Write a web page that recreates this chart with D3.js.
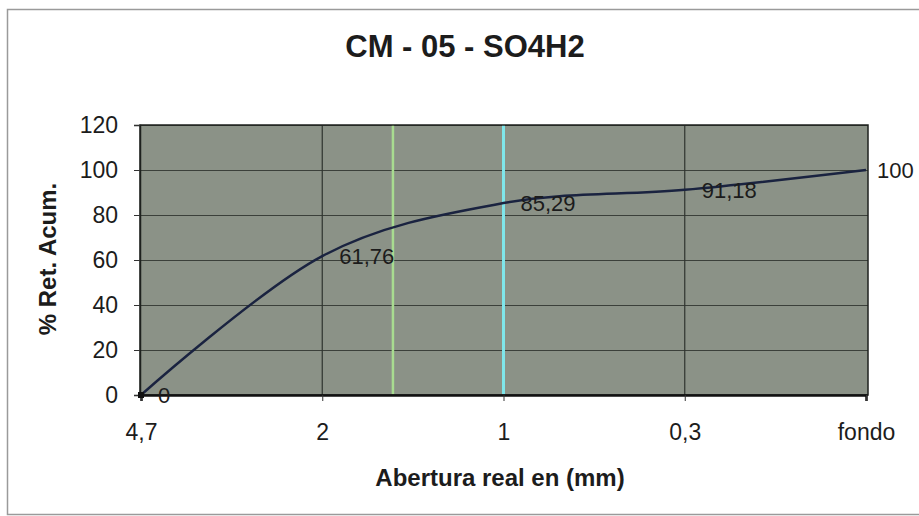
<!DOCTYPE html>
<html>
<head>
<meta charset="utf-8">
<script src="https://cdn.jsdelivr.net/npm/d3@7.9.0/dist/d3.min.js"></script>
<style>
  body { margin: 0; background: #fff; }
  svg { display: block; font-family: Arial, "Liberation Sans", sans-serif; }
</style>
</head>
<body>
<svg id="chart" width="919" height="516"></svg>
<script>
// data
const categories = ["4,7", "2", "1", "0,3", "fondo"];
const retained = [0, 61.76, 85.29, 91.18, 100];
const valueLabels = ["0", "61,76", "85,29", "91,18", "100"];
const yTicks = [0, 20, 40, 60, 80, 100, 120];

const svg = d3.select("#chart");

// plot area
const plot = { left: 140, right: 868, top: 125, bottom: 395 };

let x = d3.scalePoint().domain(categories).range([141, 866]);
let y = d3.scaleLinear().domain([0, 120]).range([plot.bottom, plot.top]);

// outer chart frame (left, top, bottom edges visible in the scan)
svg.append("path")
  .attr("d", "M919,9.5 H7.5 V514.5 H919")
  .attr("fill", "none")
  .attr("stroke", "#9a9a9a")
  .attr("stroke-width", 1.5);

// title
svg.append("text")
  .attr("x", 465).attr("y", 57)
  .attr("text-anchor", "middle")
  .attr("font-weight", "bold")
  .attr("font-size", 31)
  .attr("fill", "#1c1c1c")
  .text("CM - 05 - SO4H2");

// background
svg.append("rect")
  .attr("x", plot.left).attr("y", plot.top)
  .attr("width", plot.right - plot.left)
  .attr("height", plot.bottom - plot.top)
  .attr("fill", "#8b9287");

// horizontal gridlines
svg.append("g")
  .selectAll("line")
  .data(yTicks.slice(1))
  .join("line")
  .attr("x1", plot.left).attr("x2", plot.right)
  .attr("y1", d => Math.round(y(d)) + 0.5)
  .attr("y2", d => Math.round(y(d)) + 0.5)
  .attr("stroke", "#3b403a")
  .attr("stroke-width", 1.2);

// vertical gridlines at inner categories
svg.append("g")
  .selectAll("line")
  .data(categories.slice(1, -1))
  .join("line")
  .attr("x1", d => x(d)).attr("x2", d => x(d))
  .attr("y1", plot.top).attr("y2", plot.bottom)
  .attr("stroke", "#2f342f")
  .attr("stroke-width", 1.2);

// the coloured stripes seen on the scan
svg.append("line")
  .attr("x1", x("1")).attr("x2", x("1"))
  .attr("y1", plot.top).attr("y2", plot.bottom)
  .attr("stroke", "#7fe6ea")
  .attr("stroke-width", 3);
let greenX = x("2") + (x("1") - x("2")) * 0.39;
svg.append("line")
  .attr("x1", greenX).attr("x2", greenX)
  .attr("y1", plot.top).attr("y2", plot.bottom)
  .attr("stroke", "#a8dc90")
  .attr("stroke-width", 2.5);

// plot border
svg.append("rect")
  .attr("x", plot.left).attr("y", plot.top)
  .attr("width", plot.right - plot.left)
  .attr("height", plot.bottom - plot.top)
  .attr("fill", "none")
  .attr("stroke", "#1e211e")
  .attr("stroke-width", 1.5);

// y axis
let yAxis = svg.append("g")
  .attr("transform", `translate(${plot.left},0)`)
  .call(d3.axisLeft(y).tickValues(yTicks).tickSize(6).tickPadding(16));
yAxis.select(".domain").attr("stroke", "#1e211e").attr("stroke-width", 1.5);
yAxis.selectAll(".tick line").attr("stroke", "#333");
yAxis.selectAll("text")
  .attr("font-size", 23)
  .attr("fill", "#1c1c1c")
  .attr("font-family", "Arial, 'Liberation Sans', sans-serif");

// x axis
let xAxis = svg.append("g")
  .attr("transform", `translate(0,${plot.bottom})`)
  .call(d3.axisBottom(x).tickSize(6).tickPadding(23));
xAxis.select(".domain").attr("stroke", "#111").attr("stroke-width", 2.5);
xAxis.selectAll(".tick line").attr("stroke", "#333");
xAxis.selectAll("text")
  .attr("font-size", 23)
  .attr("fill", "#1c1c1c")
  .attr("font-family", "Arial, 'Liberation Sans', sans-serif");

// axis titles
svg.append("text")
  .attr("transform", "translate(56,259) rotate(-90)")
  .attr("text-anchor", "middle")
  .attr("font-weight", "bold")
  .attr("font-size", 24)
  .attr("fill", "#1c1c1c")
  .text("% Ret. Acum.");

svg.append("text")
  .attr("x", 500).attr("y", 486)
  .attr("text-anchor", "middle")
  .attr("font-weight", "bold")
  .attr("font-size", 24)
  .attr("fill", "#1c1c1c")
  .text("Abertura real en (mm)");

// smoothed curve
let points = categories.map((c, i) => [x(c), y(retained[i])]);
let line = d3.line().curve(d3.curveCardinal.tension(0));
svg.append("path")
  .attr("d", line(points))
  .attr("fill", "none")
  .attr("stroke", "#1a2340")
  .attr("stroke-width", 2.5);

// marker at origin
svg.append("rect")
  .attr("x", x("4,7") - 3).attr("y", y(0) - 3)
  .attr("width", 6).attr("height", 6)
  .attr("fill", "#111");

// data labels
svg.append("g")
  .selectAll("text")
  .data(categories)
  .join("text")
  .attr("x", (d, i) => x(d) + (i === categories.length - 1 ? 11 : 17))
  .attr("y", (d, i) => y(retained[i]))
  .attr("dy", "0.36em")
  .attr("font-size", 22)
  .attr("fill", "#1c1c1c")
  .text((d, i) => valueLabels[i]);
</script>
</body>
</html>
